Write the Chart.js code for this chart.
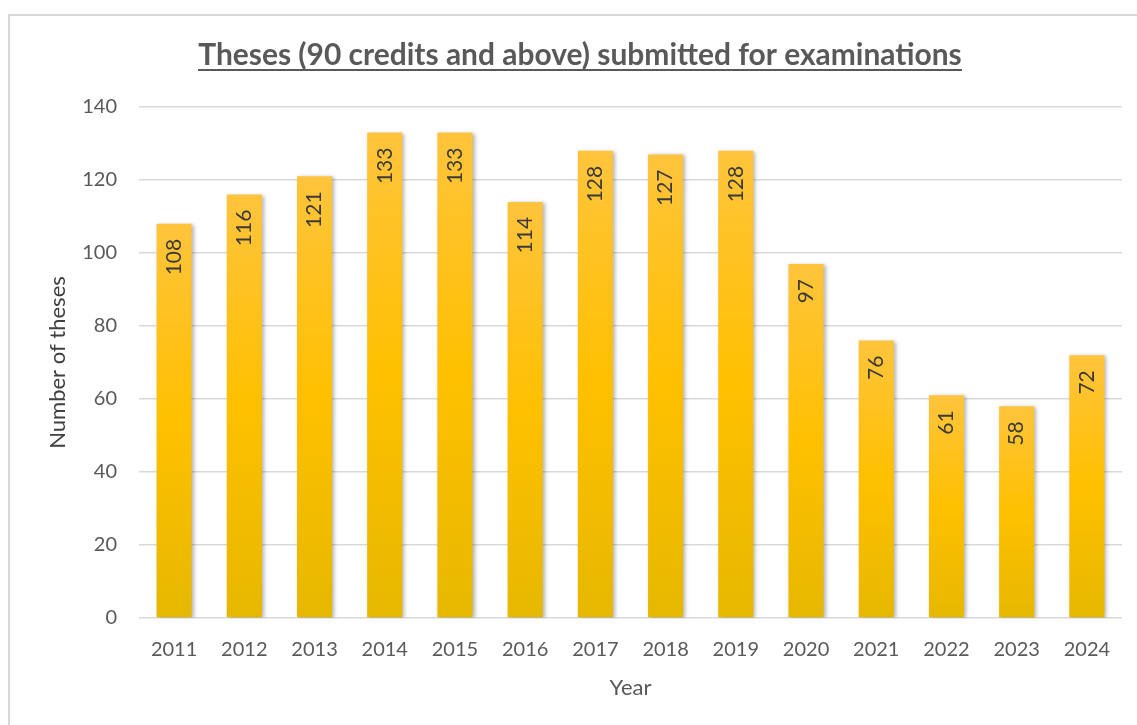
<!DOCTYPE html>
<html>
<head>
<meta charset="utf-8">
<script src="https://cdn.jsdelivr.net/npm/chart.js@4.4.1/dist/chart.umd.min.js"></script>
<style>
  html, body { margin: 0; padding: 0; background: #fff; }
  #wrap { width: 1137px; height: 725px; position: relative; }
</style>
</head>
<body>
<div id="wrap"><canvas id="c" width="1137" height="725"></canvas></div>
<script>
// ─── DATA ─────────────────────────────────────────────────────────────────────
const years = ['2011', '2012', '2013', '2014', '2015', '2016', '2017',
               '2018', '2019', '2020', '2021', '2022', '2023', '2024'];
const theses = [108, 116, 121, 133, 133, 114, 128, 127, 128, 97, 76, 61, 58, 72];
const yTicks = [0, 20, 40, 60, 80, 100, 120, 140];

const chartTitle = 'Theses (90 credits and above) submitted for examinations';
const FONT = 'Lato, "Open Sans", sans-serif';
const GREY = '#595959';

// per-bar vertical gradient, Excel style
function barFill(ctx) {
  const chart = ctx.chart;
  const y = chart.scales.y;
  if (!chart.chartArea || !y) return '#ffc000';
  const top = y.getPixelForValue(theses[ctx.dataIndex]);
  const bottom = y.getPixelForValue(0);
  if (!isFinite(top) || bottom - top < 1) return '#ffc000';
  const g = chart.ctx.createLinearGradient(0, top, 0, bottom);
  g.addColorStop(0, '#ffc43c');
  g.addColorStop(0.5, '#ffc000');
  g.addColorStop(1, '#e6b800');
  return g;
}

// frame, title + underline, rotated value labels
const decor = {
  id: 'decor',
  beforeDraw(chart) {
    const c = chart.ctx;
    c.save();
    c.fillStyle = '#d9d9d9';
    c.fillRect(8, 14, 2, 725);
    c.fillRect(8, 14, 1137, 2);
    c.restore();
  },
  beforeDatasetDraw(chart) {
    const c = chart.ctx;
    c.save();
    c.shadowColor = 'rgba(0,0,0,0.3)';
    c.shadowBlur = 4;
    c.shadowOffsetX = 2;
    c.shadowOffsetY = 1;
  },
  afterDatasetDraw(chart) {
    chart.ctx.restore();
  },
  afterDraw(chart) {
    const c = chart.ctx;
    c.save();
    // title
    let size = 26;
    c.font = `bold ${size}px ${FONT}`;
    size = size * 764 / c.measureText(chartTitle).width;
    c.font = `bold ${size}px ${FONT}`;
    c.fillStyle = GREY;
    c.textAlign = 'center';
    c.textBaseline = 'alphabetic';
    c.fillText(chartTitle, 580, 65);
    c.fillRect(198, 69, 764, 2);

    // values
    const meta = chart.getDatasetMeta(0);
    c.fillStyle = '#3a3a3a';
    c.font = `21px ${FONT}`;
    c.textAlign = 'right';
    c.textBaseline = 'middle';
    meta.data.forEach((bar, i) => {
      c.save();
      c.translate(bar.x, bar.y + 15);
      c.rotate(-Math.PI / 2);
      c.fillText(String(theses[i]), 0, 0);
      c.restore();
    });
    c.restore();
  }
};

new Chart(document.getElementById('c'), {
  type: 'bar',
  data: {
    labels: years,
    datasets: [{
      data: theses,
      backgroundColor: barFill,
      borderWidth: 0,
      categoryPercentage: 1,
      barPercentage: 0.5
    }]
  },
  options: {
    responsive: false,
    animation: false,
    layout: { padding: { top: 107, right: 15, left: 30, bottom: 18 } },
    plugins: {
      legend: { display: false },
      tooltip: { enabled: false }
    },
    scales: {
      x: {
        grid: { display: false, drawTicks: false },
        border: { display: false },
        ticks: { color: GREY, font: { family: FONT, size: 20 }, padding: 20 },
        title: {
          display: true, text: 'Year', color: GREY,
          font: { family: FONT, size: 22 }, padding: { top: 0, bottom: 6 }
        },
        afterFit(s) { s.height = 725 - 618 - 18; }
      },
      y: {
        min: 0, max: 140,
        afterBuildTicks(s) { s.ticks = yTicks.map(v => ({ value: v })); },
        grid: { color: '#d9d9d9', lineWidth: 1.5, drawTicks: false },
        border: { display: false },
        ticks: { color: GREY, font: { family: FONT, size: 20 }, padding: 22 },
        title: {
          display: true, text: 'Number of theses', color: '#404040',
          font: { family: FONT, size: 22 }, padding: { top: 15, bottom: 0 }
        },
        afterFit(s) { s.width = 139 - 30; }
      }
    }
  },
  plugins: [decor]
});
</script>
</body>
</html>
